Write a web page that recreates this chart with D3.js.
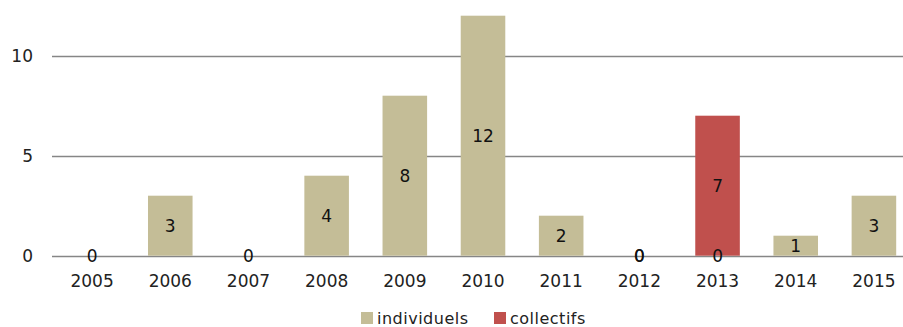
<!DOCTYPE html>
<html>
<head>
<meta charset="utf-8">
<script src="https://cdn.jsdelivr.net/npm/d3@7"></script>
<style>
  html, body { margin: 0; padding: 0; background: #fff; }
  svg { display: block; font-family: "DejaVu Sans", Verdana, sans-serif; }
</style>
</head>
<body>
<svg id="chart" width="903" height="327"></svg>
<script>
// Années et effectifs par type
const years = ["2005", "2006", "2007", "2008", "2009", "2010", "2011", "2012", "2013", "2014", "2015"];
const individuels = [0, 3, 0, 4, 8, 12, 2, 0, 0, 1, 3];
const collectifs = [null, null, null, null, null, null, null, 0, 7, null, null];
const seriesNames = ["individuels", "collectifs"];
const seriesColors = ["#C4BD97", "#C0504D"];
const yTicks = [0, 5, 10];

const svg = d3.select("#chart");
const W = 903;

const x = d3.scaleBand()
  .domain(years)
  .range([53, 913])
  .paddingInner(0.43)
  .paddingOuter(0.215);

const y = d3.scaleLinear()
  .domain([0, 12])
  .range([255.7, 15.7]);

// Gridlines
svg.append("g")
  .selectAll("line")
  .data(yTicks)
  .join("line")
  .attr("x1", 52).attr("x2", W)
  .attr("y1", d => Math.round(y(d)) + 0.5)
  .attr("y2", d => Math.round(y(d)) + 0.5)
  .attr("stroke", "#868686")
  .attr("stroke-width", 1.3);

// Y axis labels
const yAxis = d3.axisLeft(y).tickValues(yTicks).tickSize(0).tickPadding(0);
svg.append("g")
  .attr("transform", "translate(33,0)")
  .call(yAxis)
  .call(g => g.select(".domain").remove())
  .call(g => g.selectAll("text")
    .attr("font-size", 17)
    .attr("font-family", "DejaVu Sans, Verdana, sans-serif")
    .attr("fill", "#222"));

// X axis labels
const xAxis = d3.axisBottom(x).tickSize(0).tickPadding(0);
svg.append("g")
  .attr("transform", "translate(0,275)")
  .call(xAxis)
  .call(g => g.select(".domain").remove())
  .call(g => g.selectAll("text")
    .attr("font-size", 17)
    .attr("font-family", "DejaVu Sans, Verdana, sans-serif")
    .attr("fill", "#222"));

// Stacked segments
const rows = years.map((yr, i) => {
  const a = individuels[i];
  const b = collectifs[i];
  return { year: yr, segs: [
    { s: 0, v: a, y0: 0, y1: a },
    { s: 1, v: b, y0: a, y1: a + (b || 0) }
  ]};
});

const segs = rows.flatMap(r => r.segs.map(s => ({ ...s, year: r.year })));

svg.append("g")
  .selectAll("rect")
  .data(segs.filter(d => d.v))
  .join("rect")
  .attr("x", d => x(d.year))
  .attr("width", x.bandwidth())
  .attr("y", d => y(d.y1))
  .attr("height", d => y(d.y0) - y(d.y1))
  .attr("fill", d => seriesColors[d.s]);

// Value labels
svg.append("g")
  .selectAll("text")
  .data(segs.filter(d => d.v !== null))
  .join("text")
  .attr("x", d => x(d.year) + x.bandwidth() / 2)
  .attr("y", d => (y(d.y0) + y(d.y1)) / 2)
  .attr("text-anchor", "middle")
  .attr("dominant-baseline", "central")
  .attr("font-size", 17)
  .attr("fill", "#111")
  .text(d => d.v);

// Legend
const legend = svg.append("g").attr("transform", "translate(0,318)");
const legendX = [361, 494];
seriesNames.forEach((name, i) => {
  legend.append("rect")
    .attr("x", legendX[i]).attr("y", -6)
    .attr("width", 12).attr("height", 12)
    .attr("fill", seriesColors[i]);
  legend.append("text")
    .attr("x", legendX[i] + 16).attr("y", 0)
    .attr("dominant-baseline", "central")
    .attr("font-size", 16)
    .attr("letter-spacing", 0.5)
    .attr("fill", "#222")
    .text(name);
});
</script>
</body>
</html>
